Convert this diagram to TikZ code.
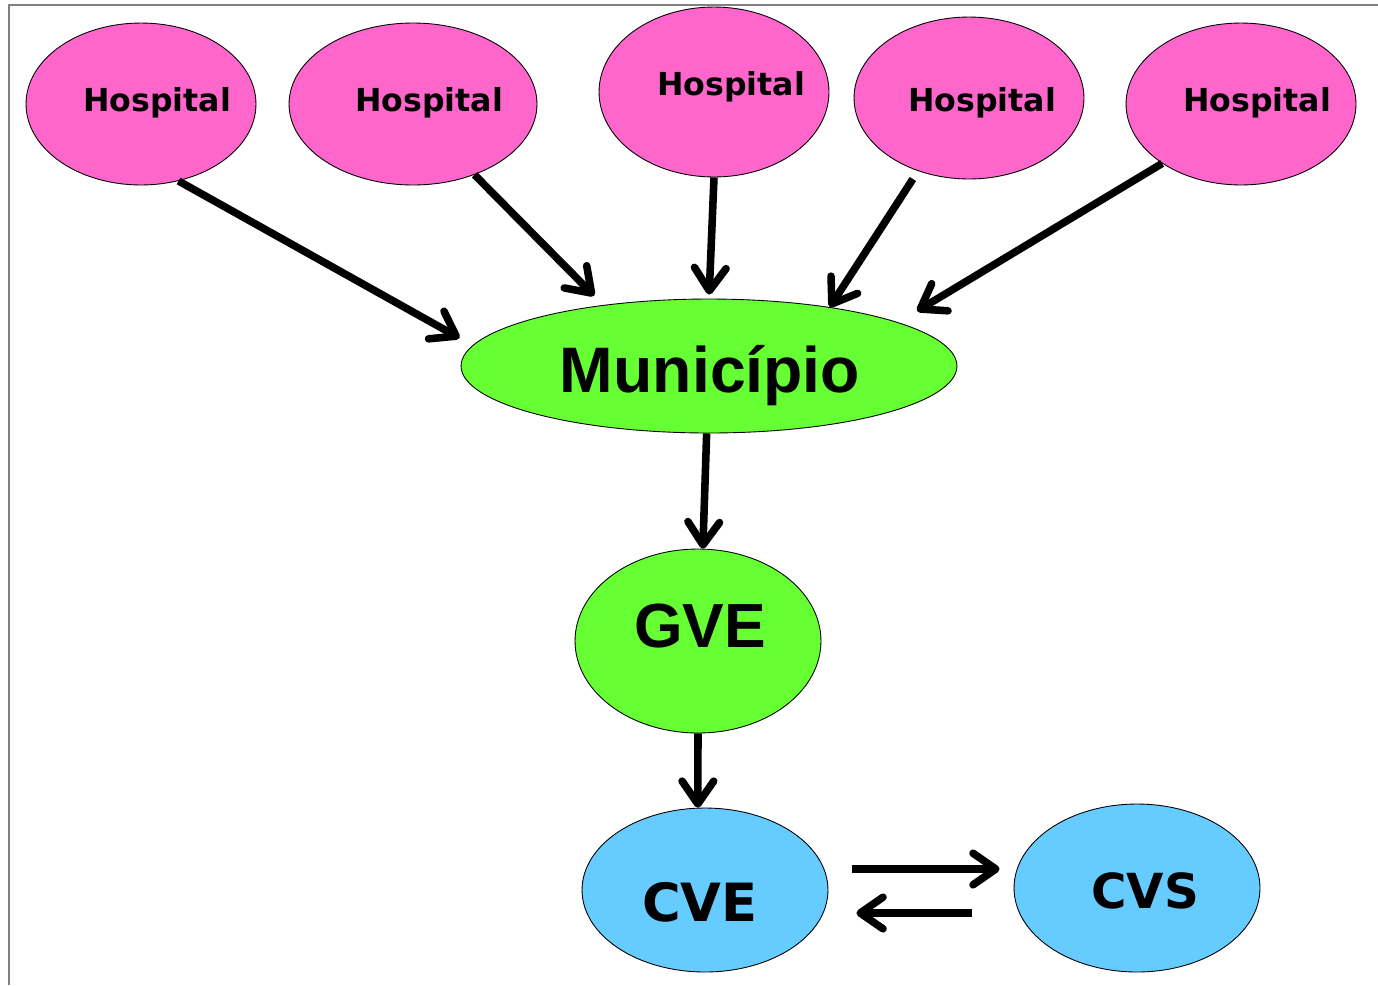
\documentclass[tikz,border=0pt]{standalone}
\usepackage{fontspec}
\setmainfont{DejaVu Sans}
\newfontfamily\arialfont{Liberation Sans}
\usetikzlibrary{arrows.meta,shapes.geometric}
\definecolor{hosppink}{HTML}{FF66CC}
\definecolor{mungreen}{HTML}{66FF33}
\definecolor{cvblue}{HTML}{66CCFF}
\tikzset{
  blob/.style={ellipse, draw=black, line width=0.5pt, inner sep=0pt},
  hosp/.style={blob, fill=hosppink, minimum width=4.6cm, minimum height=3.24cm},
  lbl/.style={anchor=base, inner sep=0pt, font=\bfseries\fontsize{18}{20}\selectfont},
  arr/.style={-{Straight Barb[length=13pt,width=18pt,round]}, line width=4.3pt}
}
\begin{document}
\begin{tikzpicture}[x=0.02cm, y=-0.02cm]
  \useasboundingbox (0,0) rectangle (1378,985);
  \draw[black!50, line width=1.1pt] (9,985) -- (9,5) -- (1378,5);
  % hospitals
  \node (H1) [hosp] at (141,104) {};
  \node (H2) [hosp, minimum width=4.96cm] at (413,104) {};
  \node (H3) [hosp, minimum height=3.4cm] at (714,92) {};
  \node (H4) [hosp] at (969,98) {};
  \node (H5) [hosp] at (1241,104) {};
  \node (L1) [lbl] at (157,111) {Hospital};
  \node (L2) [lbl] at (429,111) {Hospital};
  \node (L3) [lbl] at (731,95) {Hospital};
  \node (L4) [lbl] at (982,111) {Hospital};
  \node (L5) [lbl] at (1257,111) {Hospital};
  % levels below
  \node (M) [blob, fill=mungreen, minimum width=9.92cm, minimum height=2.68cm] at (709,366) {};
  \node (G) [blob, fill=mungreen, minimum width=4.92cm, minimum height=3.68cm] at (698,641) {};
  \node (CVE) [blob, fill=cvblue, minimum width=4.92cm, minimum height=3.28cm] at (705,890) {};
  \node (CVS) [blob, fill=cvblue, minimum width=4.92cm, minimum height=3.36cm] at (1137,888) {};
  \node (LM) [lbl, font=\arialfont\bfseries\fontsize{36.6}{40}\selectfont] at (710,392) {Município};
  \node (LG) [lbl, font=\arialfont\bfseries\fontsize{35.5}{38}\selectfont] at (700,647) {GVE};
  \node (LCVE) [lbl, font=\bfseries\fontsize{30}{33}\selectfont] at (700,921) {CVE};
  \node (LCVS) [lbl, font=\bfseries\fontsize{27.5}{30}\selectfont] at (1145,908) {CVS};
  \path[arr] (H1.-64) edge [shorten >=0.3cm] (M.175.5)
             (H2.-49.5) edge [shorten >=0.26cm] (M.150.1)
             (H3.south) edge [shorten >=0.08cm] (M.north)
             ([shift={(-5,8)}]H4.-125.3) edge (M.26.4)
             (H5.-143.9) edge [shorten >=0.44cm] (M.13)
             (M.-92) edge (G.87)
             (G.south) edge (CVE.95);
  \draw[arr] ([shift={(24,-21)}]CVE.east) -- ([shift={(-14,-19)}]CVS.west);
  \draw[arr] ([shift={(-42,25)}]CVS.west) -- ([shift={(28,23)}]CVE.east);
\end{tikzpicture}
\end{document}
